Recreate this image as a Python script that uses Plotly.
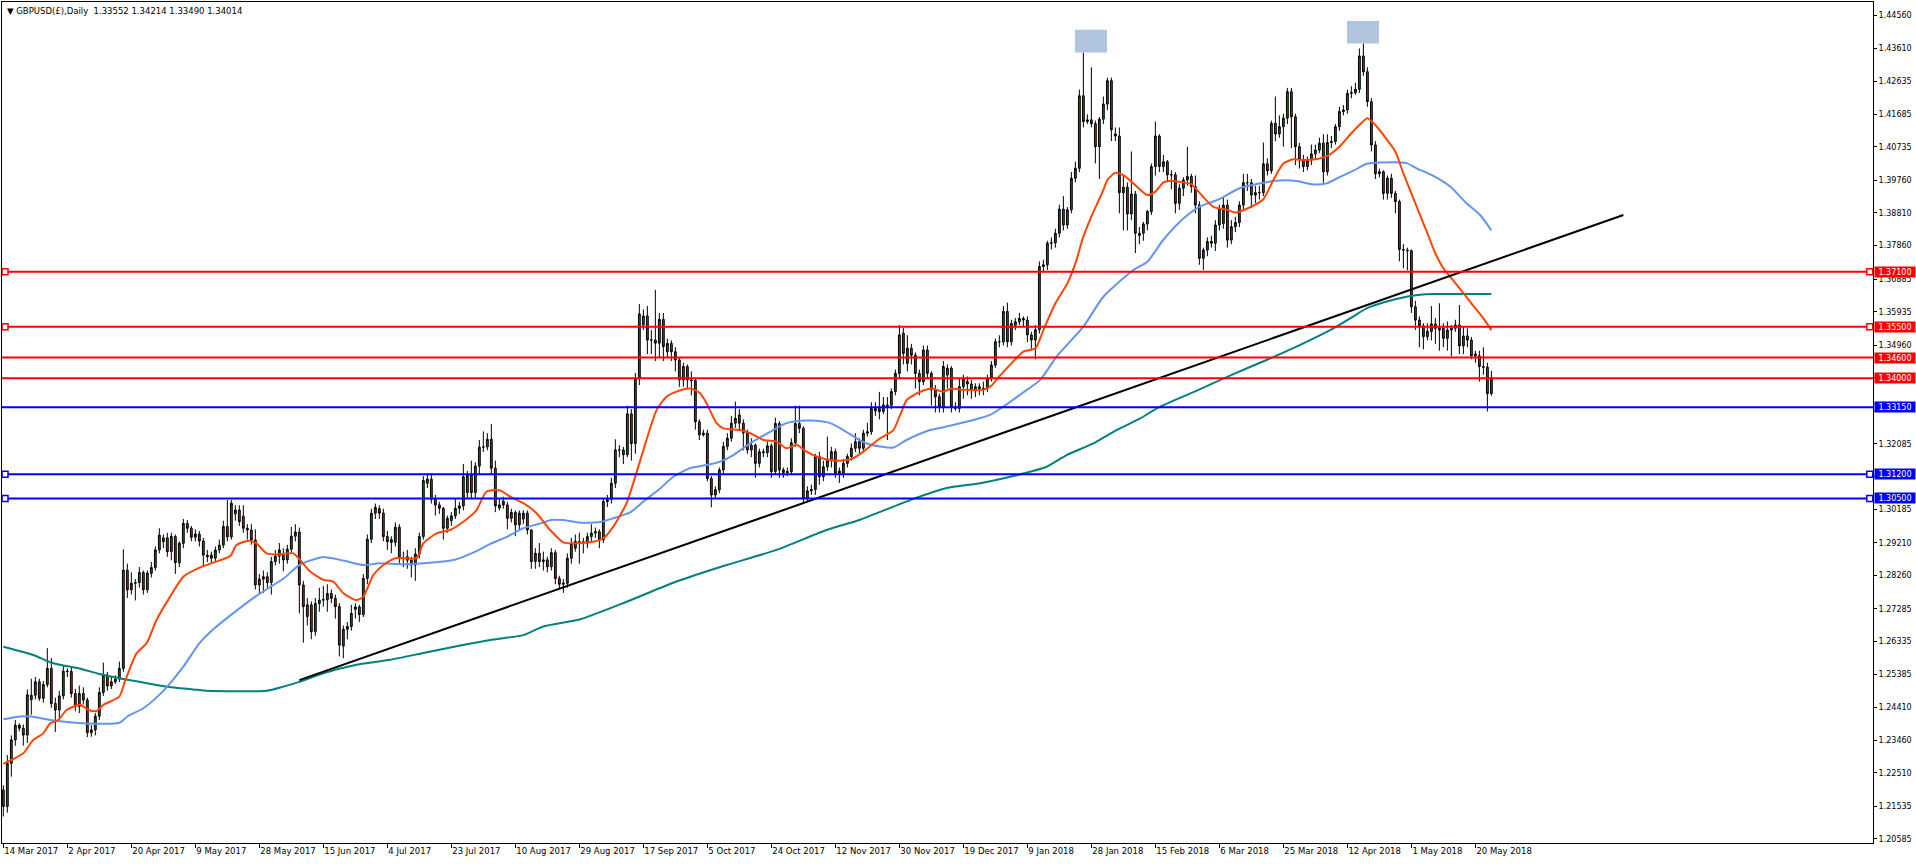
import plotly.graph_objects as go

# ---------------- data (prices in 1e-4 units) ----------------
tick_labels = ["14 Mar 2017", "2 Apr 2017", "20 Apr 2017", "9 May 2017", "28 May 2017",
               "15 Jun 2017", "4 Jul 2017", "23 Jul 2017", "10 Aug 2017", "29 Aug 2017",
               "17 Sep 2017", "5 Oct 2017", "24 Oct 2017", "12 Nov 2017", "30 Nov 2017",
               "19 Dec 2017", "9 Jan 2018", "28 Jan 2018", "15 Feb 2018", "6 Mar 2018",
               "25 Mar 2018", "12 Apr 2018", "1 May 2018", "20 May 2018"]
bars_per_label = 16

opens = [
    12201,12153,12279,12347,12390,12381,12361,12464,12477,12516,
    12468,12508,12555,12453,12434,12475,12547,12546,12482,12444,
    12482,12463,12368,12376,12416,12485,12536,12504,12516,12524,
    12555,12841,12784,12803,12805,12834,12784,12832,12849,12900,
    12935,12935,12895,12939,12863,12919,12977,12963,12937,12946,
    12926,12885,12885,12876,12900,12914,12968,12938,13005,13016,
    12998,12963,12958,12929,12798,12815,12822,12805,12866,12882,
    12885,12871,12902,12940,12952,12798,12706,12740,12662,12744,
    12754,12755,12773,12759,12735,12620,12669,12677,12727,12734,
    12712,12817,12931,13007,13020,13007,12939,12930,12922,12966,
    12876,12880,12870,12856,12888,12939,13094,13106,13047,13031,
    13021,12963,12985,12999,13021,13028,13067,13118,13067,13144,
    13199,13200,13222,13138,13022,13042,13031,12992,13009,12973,
    12990,13007,12958,12866,12890,12866,12871,12851,12892,12817,
    12800,12803,12876,12905,12920,12924,12920,12939,12949,12953,
    12929,13041,13047,13094,13191,13191,13177,13296,13210,13400,
    13555,13581,13511,13511,13502,13571,13477,13501,13477,13453,
    13395,13434,13395,13393,13273,13235,13240,13108,13060,13075,
    13133,13201,13225,13269,13293,13269,13241,13191,13205,13152,
    13186,13183,13203,13128,13268,13133,13125,13128,13212,13268,
    13254,13050,13072,13076,13172,13113,13142,13160,13186,13130,
    13123,13152,13172,13196,13215,13196,13240,13244,13305,13312,
    13303,13318,13321,13361,13414,13531,13443,13487,13467,13414,
    13390,13482,13414,13366,13346,13317,13409,13429,13317,13312,
    13375,13390,13383,13366,13375,13370,13370,13400,13438,13506,
    13506,13594,13506,13554,13564,13574,13569,13526,13511,13541,
    13725,13730,13793,13794,13822,13892,13846,13890,13982,14011,
    14222,14147,14152,14141,14074,14154,14198,14266,14111,14105,
    13940,13956,13878,13936,13815,13822,13849,13885,14016,14105,
    14016,14030,13992,13992,13909,13953,13977,13987,13958,13904,
    13749,13773,13798,13793,13846,13850,13904,13802,13841,13853,
    13904,13969,13969,13933,13940,13940,14024,14004,14142,14111,
    14132,14157,14234,14161,14074,14037,14016,14035,14053,14064,
    14084,14001,14086,14089,14132,14176,14181,14229,14231,14241,
    14338,14292,14205,14079,13995,14001,13938,13982,13938,13914,
    13775,13773,13771,13608,13569,13552,13521,13536,13558,13545,
    13545,13516,13540,13545,13555,13494,13523,13511,13470,13465,
    13434,13432,13355.2]

highs = [
    12215,12303,12360,12405,12395,12392,12494,12525,12530,12525,
    12518,12614,12585,12470,12490,12563,12555,12560,12495,12505,
    12500,12470,12390,12425,12500,12572,12545,12530,12535,12575,
    12902,12860,12835,12815,12850,12840,12840,12865,12910,12963,
    12945,12950,12950,12945,12925,12990,12987,12970,12960,12955,
    12935,12900,12895,12910,12930,12985,13045,13045,13030,13030,
    13030,12975,12975,12960,12830,12840,12835,12880,12900,12920,
    12905,12915,12967,12975,12965,12810,12760,12750,12760,12790,
    12795,12800,12785,12770,12745,12680,12690,12740,12745,12740,
    12830,12945,13020,13035,13030,13020,12955,12940,12980,12975,
    12895,12900,12880,12905,12950,13115,13120,13123,13060,13040,
    13025,13000,13010,13050,13040,13150,13130,13160,13155,13220,
    13245,13240,13267,13160,13050,13055,13040,13020,13015,13015,
    13015,13015,12960,12905,12920,12895,12880,12905,12900,12825,
    12815,12890,12935,12945,12950,12935,12950,12975,12965,12960,
    13050,13060,13110,13222,13205,13200,13320,13310,13415,13616,
    13600,13610,13540,13657,13590,13590,13515,13510,13490,13460,
    13445,13440,13420,13400,13280,13250,13250,13115,13085,13140,
    13215,13240,13290,13332,13310,13280,13250,13225,13210,13195,
    13195,13215,13210,13285,13275,13140,13140,13225,13320,13320,
    13260,13085,13090,13180,13185,13160,13230,13200,13195,13140,
    13165,13180,13210,13240,13225,13250,13270,13330,13330,13360,
    13345,13345,13370,13425,13555,13546,13525,13500,13475,13425,
    13495,13495,13420,13380,13355,13450,13440,13435,13330,13400,
    13410,13405,13395,13385,13385,13390,13410,13450,13515,13525,
    13610,13620,13570,13575,13590,13580,13580,13535,13555,13740,
    13745,13800,13810,13835,13905,13930,13898,14000,14030,14240,
    14348,14168,14305,14150,14160,14220,14275,14275,14130,14130,
    13990,13970,14060,13945,13840,13855,13890,14025,14147,14110,
    14050,14035,14005,14000,13965,13985,14074,13995,13990,13915,
    13780,13810,13815,13860,13905,13930,13920,13860,13870,13915,
    13995,13995,13980,13960,13960,14086,14040,14150,14220,14165,
    14170,14245,14245,14170,14085,14050,14045,14080,14080,14100,
    14110,14110,14105,14140,14190,14195,14240,14250,14260,14360,
    14375,14305,14215,14090,14010,14005,13990,13995,13945,13920,
    13790,13780,13775,13625,13580,13560,13560,13610,13575,13618,
    13560,13565,13555,13570,13613,13550,13545,13520,13480,13480,
    13490,13445,13421.4]

lows = [
    12124,12135,12240,12330,12372,12330,12338,12420,12465,12460,
    12455,12500,12440,12370,12405,12465,12530,12470,12430,12425,
    12450,12355,12356,12360,12405,12475,12490,12495,12510,12515,
    12545,12760,12770,12753,12790,12770,12775,12820,12840,12890,
    12905,12880,12870,12830,12850,12905,12950,12925,12925,12910,
    12850,12865,12860,12865,12890,12905,12925,12930,12985,12970,
    12950,12930,12915,12785,12770,12775,12790,12770,12855,12860,
    12838,12860,12890,12925,12715,12630,12680,12640,12650,12720,
    12735,12720,12745,12700,12590,12585,12640,12665,12700,12690,
    12705,12800,12920,12990,12990,12925,12900,12890,12910,12860,
    12850,12845,12820,12810,12875,12930,13080,13035,13000,13005,
    12930,12950,12970,12990,13005,13015,13050,13050,13050,13120,
    13185,13190,13120,13010,13015,13020,12960,12980,12940,12955,
    12975,12945,12845,12845,12850,12840,12835,12840,12800,12785,
    12775,12790,12860,12895,12860,12890,12905,12925,12935,12905,
    12920,13025,13035,13080,13170,13150,13170,13160,13180,13380,
    13540,13470,13470,13450,13460,13450,13460,13450,13420,13375,
    13375,13370,13350,13250,13220,13230,13100,13024,13050,13065,
    13120,13190,13215,13255,13250,13190,13180,13170,13110,13140,
    13170,13170,13110,13120,13110,13110,13115,13120,13200,13240,
    13035,13040,13060,13060,13090,13100,13130,13140,13110,13095,
    13110,13140,13160,13185,13180,13185,13230,13235,13290,13280,
    13295,13220,13310,13350,13400,13440,13420,13440,13370,13350,
    13380,13400,13320,13300,13300,13300,13370,13300,13305,13300,
    13340,13350,13340,13345,13350,13350,13360,13390,13430,13490,
    13495,13490,13495,13540,13555,13550,13505,13485,13455,13530,
    13710,13715,13775,13780,13810,13830,13835,13880,13970,14000,
    14130,14140,14130,14025,13980,14140,14180,14090,14090,13880,
    13830,13830,13860,13764,13790,13800,13830,13875,13990,14000,
    14000,13970,13950,13880,13890,13930,13960,13940,13880,13730,
    13715,13755,13780,13770,13830,13835,13780,13790,13825,13840,
    13890,13945,13895,13910,13920,13930,13990,13995,14090,14100,
    14074,14140,14070,14020,14010,14000,14005,14020,14035,14055,
    13969,13990,14070,14080,14120,14165,14170,14215,14225,14230,
    14280,14190,14060,13980,13985,13920,13920,13925,13880,13740,
    13720,13714,13590,13540,13490,13484,13510,13510,13500,13480,
    13490,13480,13463,13535,13470,13470,13490,13455,13445,13390,
    13410,13303,13349.0]

closes = [
    12153,12279,12347,12390,12381,12361,12478,12477,12516,12468,
    12508,12555,12453,12434,12475,12547,12546,12482,12444,12482,
    12463,12368,12376,12416,12485,12536,12504,12516,12524,12555,
    12841,12784,12803,12805,12834,12784,12832,12849,12900,12943,
    12924,12895,12939,12863,12919,12977,12963,12937,12946,12926,
    12885,12880,12876,12900,12914,12968,12938,13036,13016,12982,
    12963,12958,12929,12798,12815,12822,12805,12866,12882,12900,
    12871,12902,12940,12952,12798,12735,12740,12662,12744,12754,
    12755,12773,12759,12735,12623,12669,12677,12715,12734,12712,
    12817,12931,13007,13024,13007,12939,12924,12922,12966,12876,
    12875,12870,12856,12888,12939,13102,13106,13047,13031,13021,
    12963,12992,12999,13021,13028,13113,13118,13067,13144,13199,
    13200,13222,13138,13028,13031,13031,12992,13009,12973,13007,
    13007,12958,12866,12890,12866,12871,12851,12892,12817,12800,
    12803,12876,12920,12925,12924,12920,12939,12949,12953,12929,
    13041,13047,13094,13191,13191,13177,13296,13210,13400,13587,
    13581,13511,13511,13502,13571,13492,13501,13477,13453,13395,
    13434,13395,13393,13273,13235,13240,13108,13060,13075,13133,
    13201,13225,13269,13283,13269,13241,13191,13205,13152,13186,
    13183,13203,13128,13268,13133,13125,13128,13212,13268,13254,
    13050,13072,13076,13172,13113,13142,13160,13186,13123,13123,
    13152,13172,13196,13215,13196,13240,13244,13312,13312,13303,
    13322,13321,13361,13414,13526,13472,13487,13467,13414,13390,
    13482,13414,13366,13346,13317,13434,13429,13317,13312,13375,
    13400,13383,13366,13375,13370,13370,13400,13438,13506,13506,
    13594,13506,13559,13564,13574,13569,13526,13511,13541,13725,
    13730,13793,13794,13822,13892,13846,13890,13982,14011,14222,
    14147,14152,14141,14074,14154,14198,14266,14123,14105,13940,
    13956,13878,13936,13822,13822,13849,13885,14016,14105,14016,
    14030,13992,13992,13909,13953,13977,13987,13958,13904,13749,
    13773,13798,13793,13846,13894,13904,13802,13841,13853,13904,
    13969,13969,13933,13940,13940,14024,14004,14142,14111,14132,
    14157,14234,14161,14074,14037,14016,14035,14053,14064,14084,
    14001,14086,14089,14132,14176,14181,14229,14231,14241,14338,
    14292,14205,14079,13995,14001,13938,13982,13938,13914,13775,
    13773,13771,13608,13569,13552,13521,13536,13558,13545,13540,
    13516,13540,13545,13555,13494,13523,13511,13465,13465,13434,
    13432,13355,13401.4]

# moving averages: (bar index, price)
ma_fast_idx = [0,5,7.5,10,11.7,13.8,15.8,19.2,21.3,23.3,25,29,30.4,33.3,35.8,38.3,41.7,45,49.2,52.5,
               56.7,58.3,61.3,63.3,65.8,69.2,72.5,76.7,80,82.5,85,88.3,90,92.5,95,98,103.3,105,108.3,
               111.7,115,118.3,120.8,124.2,126.7,130,133.3,136.7,140,142.5,147.5,150,152.5,155.8,159.2,
               163.3,165.8,168.3,171.7,174.2,175.8,178.3,180,184.2,186.7,190,193.3,195.8,198.3,200.8,
               203.3,206.7,210,212.5,215,217.5,219.2,222.5,224.2,225.8,227.5,230,232,235,237,240,245,
               247,249,252,255,258,260,263,266,268,270,272,275,276,278,280,282.5,286,288,290,292,295,
               297,299,302.5,306,308,311,315,317.5,320,322.5,325,328,331,334,337,339,341,343,345,348,
               350,352,354,356,358,360,362,364,366,368,370,372]
ma_fast_val = [1.2277,1.2308,1.2347,1.2366,1.2395,1.2405,1.2434,1.2449,1.2434,1.2431,1.2449,1.2473,1.2517,
               1.2599,1.2628,1.2696,1.2764,1.2822,1.2849,1.2863,1.2882,1.2914,1.2927,1.2919,1.2890,1.2887,
               1.2890,1.2837,1.2813,1.2808,1.2774,1.2754,1.2764,1.2827,1.2856,1.2876,1.2876,1.2919,1.2948,
               1.2958,1.2982,1.3016,1.3070,1.3073,1.3055,1.3036,1.3007,1.2958,1.2922,1.2919,1.2924,1.2934,
               1.2968,1.3036,1.3160,1.3307,1.3346,1.3361,1.3370,1.3356,1.3327,1.3269,1.3254,1.3249,1.3240,
               1.3220,1.3215,1.3196,1.3206,1.3186,1.3172,1.3162,1.3160,1.3167,1.3186,1.3210,1.3225,1.3249,
               1.3293,1.3336,1.3350,1.3364,1.3370,1.3361,1.3370,1.3366,1.3366,1.3378,1.3405,1.3443,1.3477,
               1.3487,1.3540,1.3618,1.3676,1.3734,1.3812,1.3870,1.3948,1.3977,1.3998,1.3991,1.3967,1.3933,
               1.3943,1.3970,1.3975,1.3970,1.3965,1.3940,1.3899,1.3890,1.3882,1.3894,1.3921,1.3977,1.4025,
               1.4037,1.4035,1.4037,1.4047,1.4074,1.4113,1.4137,1.4157,1.4137,1.4108,1.4059,1.3996,1.3938,
               1.3880,1.3822,1.3763,1.3720,1.3691,1.3662,1.3633,1.3603,1.3574,1.3540]

ma_mid_idx = [0,4.2,7,11.7,21,29,31,35,39,42,45,49,52.5,57.5,63,67,70,74,79.7,85,90,94,100,105,110,113,
              118,122,126,130,134,137,140,144.2,149.2,152.5,156.7,160,164.2,167.5,171.7,175.8,179.2,
              182.5,186.7,191.7,195.8,199.2,203.3,206.7,210,213.3,215.8,219.2,222.5,225.8,231.7,235.8,
              242.5,246.7,250,254.2,259.2,263.3,270,275,282.5,286,290,295,299,304,309,314,318.3,323.3,
              327.5,330.8,334,337.5,340.8,344.2,350.8,353.3,357.5,361.7,365.8,369.2,372]
ma_mid_val = [1.2407,1.2415,1.2415,1.2405,1.2395,1.2397,1.2415,1.2439,1.2478,1.2516,1.2560,1.2628,1.2669,
              1.2716,1.2764,1.2794,1.2816,1.2856,1.2879,1.2869,1.2856,1.2861,1.2858,1.2861,1.2866,1.2872,
              1.2895,1.2919,1.2939,1.2963,1.2976,1.2987,1.2987,1.2979,1.2981,1.2992,1.3009,1.3041,1.3079,
              1.3113,1.3138,1.3147,1.3157,1.3176,1.3210,1.3244,1.3269,1.3276,1.3276,1.3269,1.3249,1.3225,
              1.3210,1.3201,1.3198,1.3220,1.3249,1.3259,1.3278,1.3293,1.3317,1.3352,1.3395,1.3463,1.3550,
              1.3637,1.3715,1.3739,1.3803,1.3865,1.3899,1.3921,1.3953,1.3967,1.3975,1.3974,1.3964,1.3967,
              1.3985,1.4004,1.4024,1.4028,1.4026,1.4011,1.3989,1.3958,1.3909,1.3875,1.3830]

ma_slow_idx = [0,7.5,12.5,19,24,32.5,40.8,47.5,50.8,65.8,70,74,80,88,96.7,105,113,121.7,130,135,144.2,
               155.8,168.3,180.8,193.3,205.8,214.2,226.7,235.8,244.2,252.5,260.8,265.8,272.5,277.5,284.2,
               289.2,299.2,307.5,315.8,324.2,332.5,336.7,340.8,345.8,350.8,354.2,357.5,372]
ma_slow_val = [1.2618,1.2594,1.2570,1.2555,1.2539,1.2519,1.2502,1.2494,1.2490,1.2490,1.2502,1.2516,1.2541,
               1.2565,1.2580,1.2600,1.2619,1.2638,1.2652,1.2677,1.2698,1.2749,1.2808,1.2856,1.2900,1.2958,
               1.2988,1.3045,1.3080,1.3094,1.3115,1.3142,1.3176,1.3210,1.3244,1.3283,1.3317,1.3368,1.3412,
               1.3453,1.3497,1.3545,1.3574,1.3603,1.3623,1.3637,1.3643,1.3645,1.3645]

trend_idx = [74, 405]
trend_val = [1.2521, 1.3875]

red_levels = [1.3710, 1.3550, 1.3460, 1.3400]
red_marked = [True, True, False, False]
blue_levels = [1.3315, 1.3120, 1.3050]
blue_marked = [False, True, True]

top_boxes = [(267.9, 275.9, 1.4348, 1.4414), (335.9, 343.9, 1.4374, 1.4440)]

y_ticks = [1.44560, 1.43610, 1.42635, 1.41685, 1.40735, 1.39760, 1.38810, 1.37860, 1.36885,
           1.35935, 1.34960, 1.34010, 1.33035, 1.32085, 1.31135, 1.30185, 1.29210, 1.28260,
           1.27285, 1.26335, 1.25385, 1.24410, 1.23460, 1.22510, 1.21535, 1.20585]

title_text = "\u25bc GBPUSD(\u00a3),Daily  1.33552 1.34214 1.33490 1.34014"

# ---------------- figure ----------------
SCALE = 1e-4
n = len(closes)
xs = list(range(n))
x_range = [-0.33, 467.4]
y_range = [1.20468, 1.44951]
FONT = "DejaVu Sans"

fig = go.Figure()
fig.add_trace(go.Candlestick(
    x=xs,
    open=[v * SCALE for v in opens], high=[v * SCALE for v in highs],
    low=[v * SCALE for v in lows], close=[v * SCALE for v in closes],
    increasing=dict(line=dict(color="black", width=1), fillcolor="#008000"),
    decreasing=dict(line=dict(color="black", width=1), fillcolor="#ff0000"),
    whiskerwidth=0, showlegend=False, hoverinfo="skip"))

for idx, val, col in [(ma_slow_idx, ma_slow_val, "#008080"),
                      (ma_mid_idx, ma_mid_val, "#6495ED"),
                      (ma_fast_idx, ma_fast_val, "#FF4500")]:
    fig.add_trace(go.Scatter(x=idx, y=val, mode="lines",
                             line=dict(color=col, width=2, shape="spline", smoothing=0.6),
                             showlegend=False, hoverinfo="skip"))

fig.add_trace(go.Scatter(x=trend_idx, y=trend_val, mode="lines",
                         line=dict(color="black", width=2), showlegend=False, hoverinfo="skip"))

all_levels = red_levels + blue_levels
x_left_mark = x_range[0] + 0.75
x_right_mark = x_range[1] - 0.8
for levels, marked, col in [(red_levels, red_marked, "#FF0000"), (blue_levels, blue_marked, "#0000FF")]:
    for lv, mk in zip(levels, marked):
        fig.add_trace(go.Scatter(x=x_range, y=[lv, lv], mode="lines",
                                 line=dict(color=col, width=2), showlegend=False, hoverinfo="skip"))
        if mk:
            fig.add_trace(go.Scatter(x=[x_left_mark, x_right_mark], y=[lv, lv], mode="markers",
                                     marker=dict(symbol="square", size=6, color="white",
                                                 line=dict(color=col, width=1.5)),
                                     showlegend=False, hoverinfo="skip", cliponaxis=False))
        fig.add_annotation(x=1, xref="paper", y=lv, yref="y", xanchor="left", yanchor="middle",
                           text=f"{lv:.5f}", showarrow=False, xshift=1,
                           font=dict(family=FONT, size=8, color="white"),
                           bgcolor=col, width=40, height=10, borderpad=0, align="center")

# tick labels that sit completely under a level label are left blank (as in the reference)
tick_text = ["" if any(abs(v - lv) < 0.0015 for lv in all_levels) else f"{v:.5f}" for v in y_ticks]

for x0, x1, y0, y1 in top_boxes:
    fig.add_shape(type="rect", x0=x0, x1=x1, y0=y0, y1=y1, xref="x", yref="y",
                  fillcolor="#B0C4DE", line=dict(width=0), layer="above")

fig.add_annotation(x=0, xref="paper", y=1, yref="paper", xanchor="left", yanchor="top",
                   xshift=3, yshift=-2, text=title_text, showarrow=False,
                   font=dict(family=FONT, size=8.5, color="black"))

fig.update_layout(
    template="none",
    width=1916, height=864,
    margin=dict(l=2, r=43, t=2, b=21, autoexpand=False),
    paper_bgcolor="white", plot_bgcolor="white",
    boxgap=0.35,
    showlegend=False,
    xaxis=dict(range=x_range, rangeslider=dict(visible=False), showgrid=False, zeroline=False,
               showline=True, mirror=True, linecolor="black", linewidth=1,
               ticks="outside", ticklen=4, tickcolor="black",
               tickvals=[k * bars_per_label for k in range(len(tick_labels))],
               ticktext=tick_labels, ticklabelposition="outside right",
               tickfont=dict(family=FONT, size=8.5, color="black"), automargin=False),
    yaxis=dict(range=y_range, side="right", showgrid=False, zeroline=False,
               showline=True, mirror=True, linecolor="black", linewidth=1,
               ticks="outside", ticklen=3, tickcolor="black",
               tickvals=y_ticks, ticktext=tick_text,
               tickfont=dict(family=FONT, size=8, color="black"), automargin=False),
)

fig.write_html("out.html", config={"displayModeBar": False},
               post_script="document.body.style.margin='0';document.body.style.overflow='hidden';")
